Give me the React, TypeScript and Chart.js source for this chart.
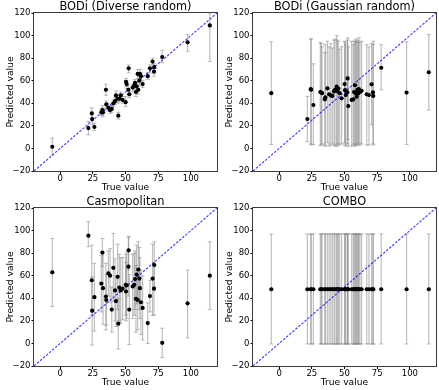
import React, { useEffect, useRef } from "react";
import { Chart, registerables } from "chart.js";
Chart.register(...registerables);

const trueValues = [-6, 21.6, 24.2, 24.5, 26.2, 31.5, 32.3, 32.8, 35, 35.3, 36.9, 38.2, 39.5, 40.7, 42, 42.7, 44, 44.5, 45.3, 46.3, 47.8, 50.1, 50.4, 50.9, 52.2, 52.4, 52.9, 55.5, 56.7, 57.3, 58, 58.5, 59.3, 59.8, 60.6, 61, 61.8, 63.1, 67, 68.7, 70.7, 71.8, 72, 78.1, 97.5, 114.5];

const diversePred = [1.5, 18, 31, 26, 19, 32, 34, 32, 52, 39, 36, 34, 35, 40, 42, 47, 44, 29, 44, 47, 43, 41, 59, 57, 52, 71, 48, 54, 56, 58, 50, 55, 66, 52, 60, 66, 64, 57, 64, 71, 77, 68, 72, 81, 94, 109];
const diverseLo = [-6, 12, 26, 21, 16, 29, 30, 28, 47, 35, 33, 31, 32, 37, 39, 43, 40, 26, 41, 44, 40, 37, 55, 53, 48, 67, 45, 50, 52, 55, 46, 51, 62, 48, 56, 62, 61, 54, 61, 67, 74, 64, 69, 76, 86, 77];
const diverseHi = [9, 24, 36, 31, 22, 35, 38, 36, 57, 42, 40, 37, 38, 43, 45, 51, 48, 32, 47, 50, 46, 46, 62, 60, 56, 74, 51, 57, 59, 61, 54, 58, 70, 55, 64, 70, 67, 60, 67, 74, 80, 72, 75, 87, 101, 120];

const gaussPred = [49, 26, 52.5, 52, 38.5, 50, 49.5, 49, 43.5, 45.3, 53.3, 48, 47, 46.5, 50.5, 52, 54.7, 50.7, 53, 49, 44.4, 57, 51.6, 47.3, 49.7, 62, 37.5, 43, 43.5, 50, 56, 48.8, 45.8, 51.8, 48.8, 52.5, 50, 51, 48, 47.3, 56.8, 49.7, 46.5, 71.5, 49.5, 67.5];
const gaussLo = [3.5, 6, 4, 3, 3.5, 2.7, 3, 4, 2, 3, 5, 2, 3, 4, 3, 2, 3, 2, 4, 3, 4, 5, 3, 2, 4, 8, 2, 2, 3, 4, 2, 3, 3, 4, 3, 5, 3, 4, 3, 3, 21, 4, 3, 52, 3.5, 34];
const gaussHi = [94.5, 46, 97, 97, 75, 94, 93, 90, 85, 92, 95, 90, 93, 89, 96, 97, 100, 96, 95, 88, 90, 95, 94, 92, 96, 98, 90, 95, 92, 95, 95, 97, 94, 96, 95, 98, 94, 95, 92, 90, 93, 92, 95, 92, 94.5, 101];

const casmoPred = [63, 95.5, 56, 29, 41, 53, 80.5, 49, 41.5, 38.5, 62, 60, 30, 67, 47, 37.5, 59, 17.5, 49.5, 47, 48.5, 52, 46, 51.5, 68, 82.5, 30, 50.5, 52, 57, 39.5, 61, 38.5, 65.5, 57.5, 49, 36.5, 31.5, 18, 42, 57.5, 48.5, 69.5, 0.5, 35.5, 60];
const casmoLo = [32.6, 85.7, 25, -1.5, 11, 28, 68, 17, 12, 16, 42, 36, 10, 37, 20, 15, 30, -5, 20, 18, 21, 25, 20, 22, 42, 65, -1, 22, 25, 30, 10, 35, 12, 40, 30, 22, 8, 3, 0, 28, 25, 25, 50, -12.5, 5, 30];
const casmoHi = [93, 108, 87, 59, 71, 78, 93, 81, 71, 61, 82, 84, 50, 97.5, 75, 60, 88, 40, 79, 76, 76, 79, 72, 81, 94, 95, 61, 79, 80, 82, 69, 87, 65, 90, 85, 76, 65, 60, 36, 56, 88, 72, 90, 13.5, 65, 90];

const comboPred = [48, 48, 48, 48, 48, 48, 48, 48, 48, 48, 48, 48, 48, 48, 48, 48, 48, 48, 48, 48, 48, 48, 48, 48, 48, 48, 48, 48, 48, 48, 48, 48, 48, 48, 48, 48, 48, 48, 48, 48, 48, 48, 48, 48, 48, 48];
const comboLo = [-0.5, -0.5, -0.5, -0.5, -0.5, -0.5, -0.5, -0.5, -0.5, -0.5, -0.5, -0.5, -0.5, -0.5, -0.5, -0.5, -0.5, -0.5, -0.5, -0.5, -0.5, -0.5, -0.5, -0.5, -0.5, -0.5, -0.5, -0.5, -0.5, -0.5, -0.5, -0.5, -0.5, -0.5, -0.5, -0.5, -0.5, -0.5, -0.5, -0.5, -0.5, -0.5, -0.5, -0.5, -0.5, -0.5];
const comboHi = [97, 97, 97, 97, 97, 97, 97, 97, 97, 97, 97, 97, 97, 97, 97, 97, 97, 97, 97, 97, 97, 97, 97, 97, 97, 97, 97, 97, 97, 97, 97, 97, 97, 97, 97, 97, 97, 97, 97, 97, 97, 97, 97, 97, 97, 97];

const panelTitles = ["BODi (Diverse random)", "BODi (Gaussian random)", "Casmopolitan", "COMBO"];
const xTicks = [0, 25, 50, 75, 100];
const yTicks = [-20, 0, 20, 40, 60, 80, 100, 120];
const diagonal = [-20, 120];

const FONT = "'DejaVu Sans', sans-serif";
const ERR = "rgba(128,128,128,0.5)";

const framePlugin = {
  id: "frame",
  afterDatasetsDraw(chart: any) {
    const { ctx, chartArea } = chart;
    const { left, top, right, bottom } = chartArea;
    ctx.save();
    ctx.strokeStyle = "rgb(60,60,60)";
    ctx.lineWidth = 1;
    ctx.strokeRect(Math.round(left) - 0.5, Math.round(top) - 0.5, Math.round(right - left) + 1, Math.round(bottom - top) + 1);
    ctx.restore();
  },
};

function fmt(v: any) {
  return String(v).replace("-", "\u2212");
}

function makeConfig(title: string, pred: number[], lo: number[], hi: number[]): any {
  const points = trueValues.map((x, i) => ({ x, y: pred[i] }));
  const errSets = trueValues.map((x, i) => ({
    data: [{ x, y: lo[i] }, { x, y: hi[i] }],
    showLine: true,
    borderColor: ERR,
    borderWidth: 1.2,
    pointStyle: "line",
    pointRadius: 2,
    pointHoverRadius: 2,
    pointBorderColor: ERR,
    pointBorderWidth: 1,
    pointBackgroundColor: ERR,
  }));
  return {
    type: "scatter",
    data: {
      datasets: [
        {
          data: points,
          pointRadius: 2.1,
          pointHoverRadius: 2.1,
          pointBackgroundColor: "#000",
          pointBorderColor: "#000",
          pointBorderWidth: 0,
        },
        {
          data: diagonal.map((v) => ({ x: v, y: v })),
          showLine: true,
          borderColor: "rgba(20,20,255,0.85)",
          borderWidth: 1.1,
          borderDash: [2.5, 1.5],
          pointRadius: 0,
        },
        ...errSets,
      ],
    },
    options: {
      responsive: false,
      animation: false,
      events: [],
      layout: { padding: { left: 0, right: 3, top: 0, bottom: 0 } },
      plugins: {
        legend: { display: false },
        tooltip: { enabled: false },
        title: {
          display: true,
          fullSize: false,
          text: title,
          color: "#000",
          font: { family: FONT, size: 11.4, weight: "normal", lineHeight: 1 },
          padding: { top: 1, bottom: 0.6 },
        },
      },
      scales: {
        x: {
          type: "linear",
          min: -20,
          max: 120,
          afterBuildTicks: (s: any) => {
            s.ticks = xTicks.map((v) => ({ value: v }));
          },
          afterFit: (s: any) => {
            s.height = 24;
          },
          ticks: {
            color: "#000",
            font: { family: FONT, size: 8.5, lineHeight: 1 },
            padding: 1,
            maxRotation: 0,
            autoSkip: false,
            callback: (v: any) => fmt(v),
          },
          grid: { drawOnChartArea: false, drawTicks: true, tickLength: 3, tickColor: "#000", color: "#000" },
          border: { display: false },
          title: {
            display: true,
            text: "True value",
            color: "#000",
            font: { family: FONT, size: 9.2, lineHeight: 1.2 },
            padding: { top: 0, bottom: 2.2 },
          },
        },
        y: {
          type: "linear",
          min: -20,
          max: 120,
          afterBuildTicks: (s: any) => {
            s.ticks = yTicks.map((v) => ({ value: v }));
          },
          afterFit: (s: any) => {
            s.width = 34;
          },
          ticks: {
            color: "#000",
            font: { family: FONT, size: 8.5, lineHeight: 1 },
            padding: 1,
            autoSkip: false,
            callback: (v: any) => fmt(v),
          },
          grid: { drawOnChartArea: false, drawTicks: true, tickLength: 2.5, tickColor: "#000", color: "#000" },
          border: { display: false },
          title: {
            display: true,
            text: "Predicted value",
            color: "#000",
            font: { family: FONT, size: 9.2, lineHeight: 1.2 },
            padding: { top: 5.5, bottom: 0 },
          },
        },
      },
    },
    plugins: [framePlugin],
  };
}

function Panel({ left, top, config }: { left: number; top: number; config: any }) {
  const ref = useRef<HTMLCanvasElement | null>(null);
  useEffect(() => {
    if (!ref.current) return;
    const chart = new Chart(ref.current, config);
    return () => chart.destroy();
  }, [config]);
  return (
    <div style={{ position: "absolute", left, top, width: 220, height: 195 }}>
      <canvas ref={ref} width={220} height={195} style={{ display: "block" }} />
    </div>
  );
}

const configs = [
  makeConfig(panelTitles[0], diversePred, diverseLo, diverseHi),
  makeConfig(panelTitles[1], gaussPred, gaussLo, gaussHi),
  makeConfig(panelTitles[2], casmoPred, casmoLo, casmoHi),
  makeConfig(panelTitles[3], comboPred, comboLo, comboHi),
];

export default function App() {
  return (
    <div style={{ position: "absolute", left: 0, top: 0, width: 439, height: 390, background: "#fff" }}>
      <Panel left={0} top={0} config={configs[0]} />
      <Panel left={219} top={0} config={configs[1]} />
      <Panel left={0} top={195} config={configs[2]} />
      <Panel left={219} top={195} config={configs[3]} />
    </div>
  );
}
